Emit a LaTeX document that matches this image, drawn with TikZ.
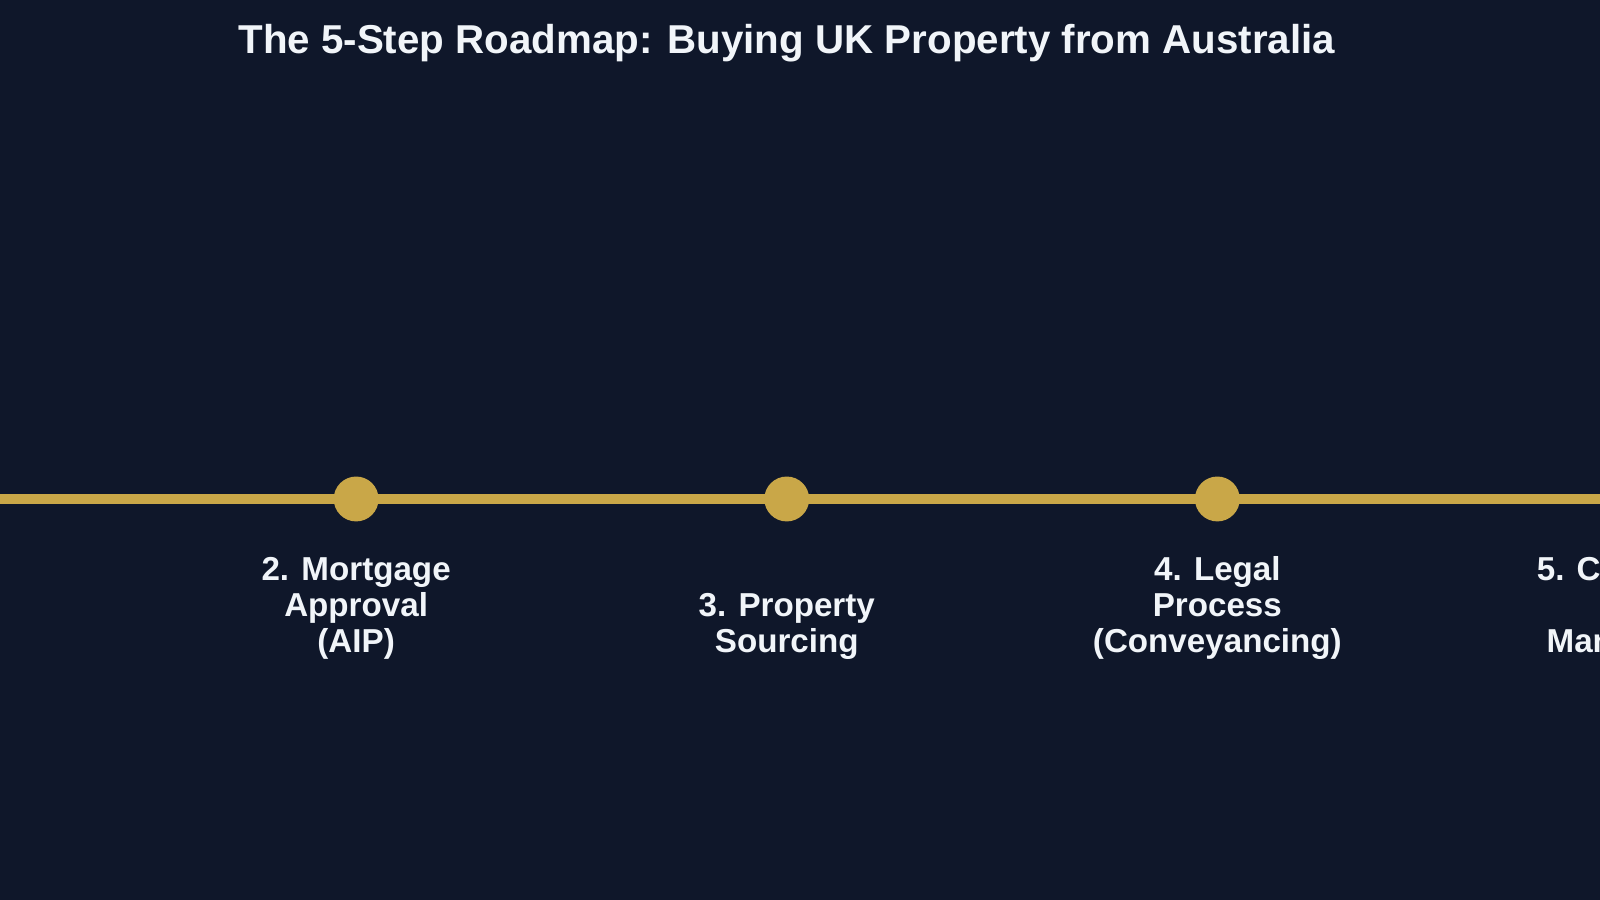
\documentclass[tikz,border=0pt]{standalone}
\usepackage{fontspec}
\setmainfont{Liberation Sans}
\definecolor{bg}{RGB}{15,23,42}
\definecolor{gold}{RGB}{201,167,72}
\definecolor{txt}{RGB}{241,245,249}
\begin{document}
\begin{tikzpicture}[x=1pt,y=-1pt,
  dot/.style={circle,fill=gold,minimum size=44pt,inner sep=0pt},
  lbl/.style={text=txt,font=\bfseries\fontsize{32.5}{35}\selectfont,align=center,anchor=base}]
\useasboundingbox (0,0) rectangle (1568,882);
\clip (0,0) rectangle (1568,882);
\fill[bg] (0,0) rectangle (1568,882);
\node[text=txt,font=\bfseries\fontsize{39.5}{42}\selectfont,anchor=base] (title) at (771,52) {The 5-Step Roadmap: Buying UK Property from Australia};
\coordinate (L) at (0,489);
\coordinate (R) at (1568,489);
\draw[gold,line width=9pt] (L) -- (R);
\node[dot] (d2) at (349,489) {};
\node[dot] (d3) at (771,489) {};
\node[dot] (d4) at (1193,489) {};
\node[dot] (d5) at (1615,489) {};
\node[lbl] (t2) at (349,639) {2. Mortgage\\Approval\\(AIP)};
\node[lbl] (t3) at (771,639) {3. Property\\Sourcing};
\node[lbl] (t4) at (1193,639) {4. Legal\\Process\\(Conveyancing)};
\node[lbl] (t5) at (1615,639) {5. Completion\\\&\\Management};
\end{tikzpicture}
\end{document}
